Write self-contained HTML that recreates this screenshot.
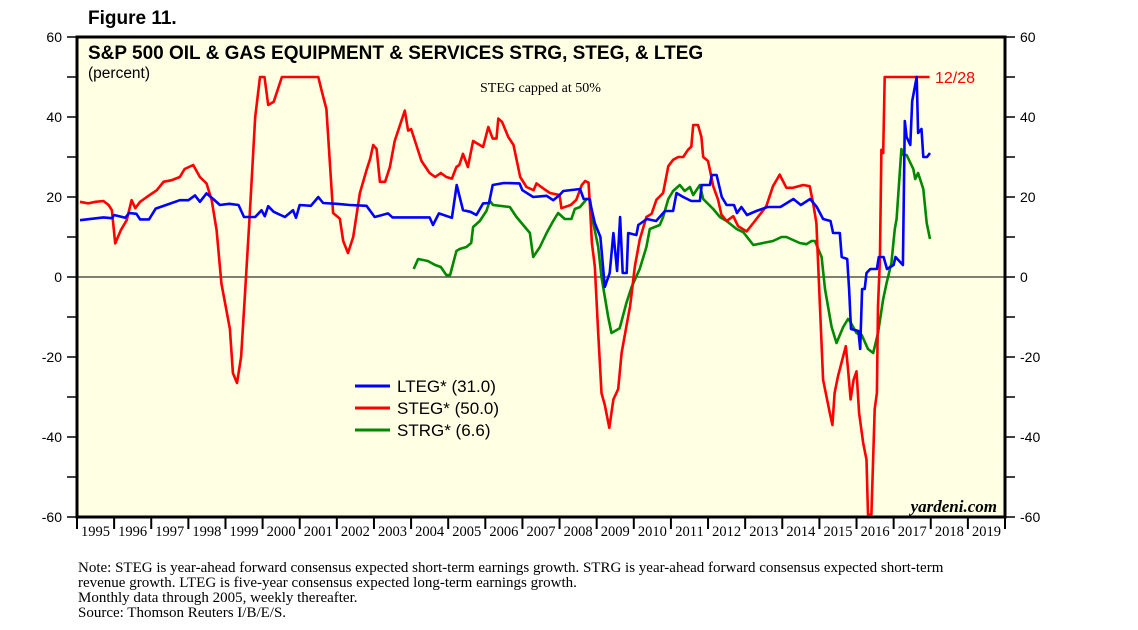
<!DOCTYPE html>
<html><head><meta charset="utf-8"><style>
html,body{margin:0;padding:0;background:#fff;}
svg{display:block;}
</style></head><body>
<svg id="chart" width="1138" height="630" viewBox="0 0 1138 630" xmlns="http://www.w3.org/2000/svg">
<text x="88" y="24" font-family="Liberation Sans, sans-serif" font-weight="bold" font-size="19">Figure 11.</text>
<rect x="77" y="37" width="928" height="480" fill="#FFFFE4" stroke="#000" stroke-width="3"/>
<g id="axes"></g>
<g id="series"></g>
<text x="88" y="59" font-family="Liberation Sans, sans-serif" font-weight="bold" font-size="19">S&amp;P 500 OIL &amp; GAS EQUIPMENT &amp; SERVICES STRG, STEG, &amp; LTEG</text>
<text x="88" y="78" font-family="Liberation Sans, sans-serif" font-size="15.5">(percent)</text>
<text x="480" y="92" font-family="Liberation Serif, serif" font-size="14">STEG capped at 50%</text>
<text x="935" y="83" font-family="Liberation Sans, sans-serif" font-size="16" fill="#f00">12/28</text>
<text x="997" y="512" text-anchor="end" font-family="Liberation Serif, serif" font-style="italic" font-weight="bold" font-size="17">yardeni.com</text>
<g font-family="Liberation Sans, sans-serif" font-size="17">
<line x1="355" y1="386" x2="390" y2="386" stroke="#00f" stroke-width="3"/><text x="397" y="392">LTEG* (31.0)</text>
<line x1="355" y1="408" x2="390" y2="408" stroke="#f00" stroke-width="3"/><text x="397" y="414">STEG* (50.0)</text>
<line x1="355" y1="430" x2="390" y2="430" stroke="#080" stroke-width="3"/><text x="397" y="436">STRG* (6.6)</text>
</g>
<g font-family="Liberation Serif, serif" font-size="15">
<text x="78" y="572">Note: STEG is year-ahead forward consensus expected short-term earnings growth. STRG is year-ahead forward consensus expected short-term</text>
<text x="78" y="587">revenue growth. LTEG is five-year consensus expected long-term earnings growth.</text>
<text x="78" y="602">Monthly data through 2005, weekly thereafter.</text>
<text x="78" y="617">Source: Thomson Reuters I/B/E/S.</text>
</g>
</svg>
<script>
const yTicks=[60,40,20,0,-20,-40,-60];
const years=[1995,1996,1997,1998,1999,2000,2001,2002,2003,2004,2005,2006,2007,2008,2009,2010,2011,2012,2013,2014,2015,2016,2017,2018,2019];
const ltegT=[1995.08,1995.71,1995.94,1996.0,1996.3,1996.4,1996.6,1996.7,1996.94,1997.12,1997.4,1997.77,1998.0,1998.18,1998.31,1998.49,1998.67,1998.85,1999.1,1999.35,1999.5,1999.8,1999.97,2000.06,2000.15,2000.3,2000.6,2000.82,2000.9,2001.0,2001.3,2001.5,2001.63,2002.0,2002.35,2002.8,2003.02,2003.38,2003.5,2004.5,2004.59,2004.75,2005.1,2005.23,2005.4,2005.6,2005.76,2005.94,2006.1,2006.2,2006.5,2006.92,2007.0,2007.29,2007.65,2007.83,2008.0,2008.1,2008.55,2008.65,2008.8,2008.95,2009.1,2009.22,2009.35,2009.45,2009.55,2009.63,2009.7,2009.81,2009.85,2010.07,2010.12,2010.35,2010.6,2010.84,2011.06,2011.15,2011.33,2011.55,2011.78,2011.83,2012.05,2012.1,2012.23,2012.37,2012.5,2012.7,2012.78,2012.9,2013.05,2013.3,2013.6,2013.95,2014.3,2014.5,2014.75,2014.93,2015.1,2015.3,2015.37,2015.55,2015.6,2015.75,2015.8,2015.85,2016.05,2016.1,2016.15,2016.22,2016.27,2016.37,2016.55,2016.6,2016.73,2016.82,2017.0,2017.05,2017.25,2017.3,2017.35,2017.45,2017.5,2017.62,2017.66,2017.75,2017.8,2017.9,2017.98];
const ltegV=[14.2,14.9,14.7,15.5,14.8,16,15.8,14.4,14.4,17.1,18,19.2,19.2,20.4,18.8,20.9,19.5,18,18.3,18,15,15,16.7,15.2,17.7,16.3,15,16.7,14.8,18,17.8,20,18.5,18.3,18,17.8,15,15.9,14.9,14.9,13,15.9,14.8,23,16.7,16.3,15.5,18.4,18.5,23,23.5,23.4,21.7,20,20.3,19.2,20.5,21.5,22,19.5,19.5,13.5,10,-2.5,1,11,1.5,15,1,1,11,10.5,13,14.5,14,16.5,16.5,21,20,19,19,23,23,25.5,25.5,20,18,18,16,17.5,15.5,16.5,17.5,17.5,19.5,18,19.5,17.5,14.5,14,11,11,5,4.5,-3,-13,-13.5,-18,-3,-3,1,2,2,5,5,2,3,5,3,39,35,33,44,50,36,37,30,30,31];
const stegT=[1995.08,1995.3,1995.5,1995.71,1995.85,1995.94,1996.03,1996.18,1996.34,1996.47,1996.57,1996.7,1996.88,1997.15,1997.33,1997.55,1997.77,1997.9,1998.13,1998.31,1998.49,1998.63,1998.76,1998.89,1999.12,1999.2,1999.31,1999.42,1999.52,1999.65,1999.8,1999.93,2000.05,2000.15,2000.3,2000.52,2001.5,2001.59,2001.72,2001.9,2002.08,2002.17,2002.3,2002.44,2002.62,2002.8,2002.9,2002.98,2003.07,2003.16,2003.3,2003.43,2003.56,2003.83,2003.92,2004.0,2004.28,2004.5,2004.65,2004.8,2004.95,2005.1,2005.22,2005.3,2005.4,2005.53,2005.67,2005.94,2006.08,2006.2,2006.3,2006.35,2006.45,2006.62,2006.76,2006.94,2007.11,2007.3,2007.38,2007.55,2007.74,2008.0,2008.05,2008.3,2008.45,2008.6,2008.69,2008.78,2008.82,2008.87,2008.95,2009.04,2009.13,2009.22,2009.34,2009.45,2009.58,2009.67,2009.8,2009.9,2010.03,2010.16,2010.34,2010.48,2010.61,2010.79,2010.93,2011.06,2011.2,2011.33,2011.46,2011.55,2011.6,2011.73,2011.82,2011.87,2012.0,2012.05,2012.14,2012.27,2012.36,2012.5,2012.68,2012.81,2013.04,2013.22,2013.57,2013.75,2013.93,2014.11,2014.29,2014.56,2014.74,2014.83,2014.92,2015.01,2015.1,2015.28,2015.35,2015.41,2015.5,2015.64,2015.71,2015.77,2015.84,2015.92,2016.0,2016.07,2016.18,2016.27,2016.31,2016.4,2016.49,2016.55,2016.58,2016.63,2016.67,2016.72,2016.76,2017.97];
const stegV=[18.8,18.4,18.8,19,18,16.7,8.4,11.7,14.2,19.2,17.2,18.8,20,21.7,23.8,24.2,25,27,28,25,23.4,19.2,11.7,-1.6,-13,-24,-26.5,-20,-5,15,40,50,50,43,43.8,50,50,46.6,42,16,14.6,9,6,10,21,26.7,29.6,33,32,23.8,23.8,27.5,34,41.6,36.6,37,29,26,25,26,25,24.6,27.5,28,30.8,27.5,34,32.5,37.5,34.6,34.6,39.6,38.8,35,33,25,22.5,21.7,23.4,22.2,21,20.5,17.2,18,19.3,23,24,23.6,17.6,8.5,2.7,-14,-29,-32,-37.7,-30.6,-28,-19,-12.3,-7.3,2.7,9.3,15,15.8,19.3,21,27.7,29.3,30,30,31.8,32.6,38,38,35,30,29,26.8,22.7,19.3,15.6,14,15.2,12.7,11.4,13.5,17.7,22.7,25.6,22.3,22.3,23,22.7,18.5,13.5,-6.5,-25.7,-34,-37,-29,-24.8,-19.8,-17.3,-23,-30.6,-25.7,-23.6,-34,-41.5,-45.7,-59.4,-59.4,-33,-29,-7.3,4.3,31.8,31,50,50];
const strgT=[2004.07,2004.19,2004.45,2004.65,2004.8,2004.95,2005.05,2005.22,2005.31,2005.49,2005.62,2005.67,2005.85,2006.03,2006.12,2006.21,2006.66,2006.84,2007.2,2007.29,2007.47,2007.65,2007.83,2007.96,2008.14,2008.32,2008.41,2008.55,2008.73,2008.82,2008.91,2009.04,2009.13,2009.31,2009.4,2009.62,2009.8,2009.94,2010.16,2010.34,2010.43,2010.7,2010.79,2010.93,2011.06,2011.24,2011.37,2011.51,2011.6,2011.78,2011.87,2012.14,2012.32,2012.5,2012.77,2012.95,2013.22,2013.75,2013.98,2014.11,2014.47,2014.65,2014.79,2014.88,2015.06,2015.15,2015.33,2015.46,2015.64,2015.77,2015.82,2016.0,2016.14,2016.31,2016.45,2016.58,2016.72,2016.81,2016.94,2017.03,2017.08,2017.21,2017.26,2017.35,2017.53,2017.58,2017.66,2017.8,2017.89,2017.98];
const strgV=[2,4.5,4,3,2.5,0.5,0.5,6.5,7,7.5,8.5,12.5,14,16.5,19,18,17.5,15,11,5,7.5,11,14,16,14.5,14.5,17,17.5,19.5,19.5,13.5,7.5,0,-10,-14,-12.8,-6.5,-2.5,2,7.5,12,13,15,19.5,21.5,23,21.5,22.5,20.5,23,19.5,17,15,14,12,11.2,8,9,10,10,8.5,8.2,9,9,5,-3,-12.5,-16.5,-12.5,-10.5,-11,-14,-14.5,-18,-19,-14,-5.5,-1.5,3.5,12,14.5,32,30.5,30.5,27,24.5,26,22,13.5,9.5,6.6];
const X0=77,X1=1005,Y0=37,Y1=517,YMIN=-60,YMAX=60,T0=1995,T1=2020;
function xs(t){return X0+(t-T0)/(T1-T0)*(X1-X0);}
function ys(v){return Y1-(v-YMIN)/(YMAX-YMIN)*(Y1-Y0);}
const NS='http://www.w3.org/2000/svg';
const axes=document.getElementById('axes');
function mk(tag,attrs,parent){const e=document.createElementNS(NS,tag);for(const k in attrs)e.setAttribute(k,attrs[k]);parent.appendChild(e);return e;}
for(let v=-60;v<=60;v+=10){
  const l=mk('line',{x1:X0-10,x2:X0,y1:ys(v),y2:ys(v),stroke:'#000','stroke-width':1.5},axes);
  
  
  const r=mk('line',{x1:X1,x2:X1+10,y1:ys(v),y2:ys(v),stroke:'#000','stroke-width':1.5},axes);
  
  
}
yTicks.forEach(v=>{
  const a=mk('text',{x:X0-15,y:ys(v)+5,'text-anchor':'end','font-family':'Liberation Sans, sans-serif','font-size':14},axes);
  a.textContent=v;
  
  
  const b=mk('text',{x:X1+15,y:ys(v)+5,'font-family':'Liberation Sans, sans-serif','font-size':14},axes);
  b.textContent=v;
  
  
});
const zl=mk('line',{x1:X0,x2:X1,y1:ys(0),y2:ys(0),stroke:'#000','stroke-width':1},axes);


years.forEach(y=>{
  const t=mk('line',{x1:xs(y),x2:xs(y),y1:Y1,y2:Y1+12,stroke:'#000','stroke-width':2},axes);
  
  
  const l=mk('text',{x:xs(y+0.5),y:Y1+19,'text-anchor':'middle','font-family':'Liberation Serif, serif','font-size':14.5},axes);
  l.textContent=y;
  
  
});
const last=mk('line',{x1:X1,x2:X1,y1:Y1,y2:Y1+12,stroke:'#000','stroke-width':2},axes);


const sg=document.getElementById('series');
function drawLine(T,V,color,name){
  const d=T.map((t,i)=>(i?'L':'M')+xs(t).toFixed(1)+','+ys(V[i]).toFixed(1)).join('');
  const p=mk('path',{d:d,fill:'none',stroke:color,'stroke-width':2.6,'stroke-linejoin':'round'},sg);
  
  
}
drawLine(strgT,strgV,'#080','strg-line');
drawLine(stegT,stegV,'#f00','steg-line');
drawLine(ltegT,ltegV,'#00f','lteg-line');
</script>
</body></html>
